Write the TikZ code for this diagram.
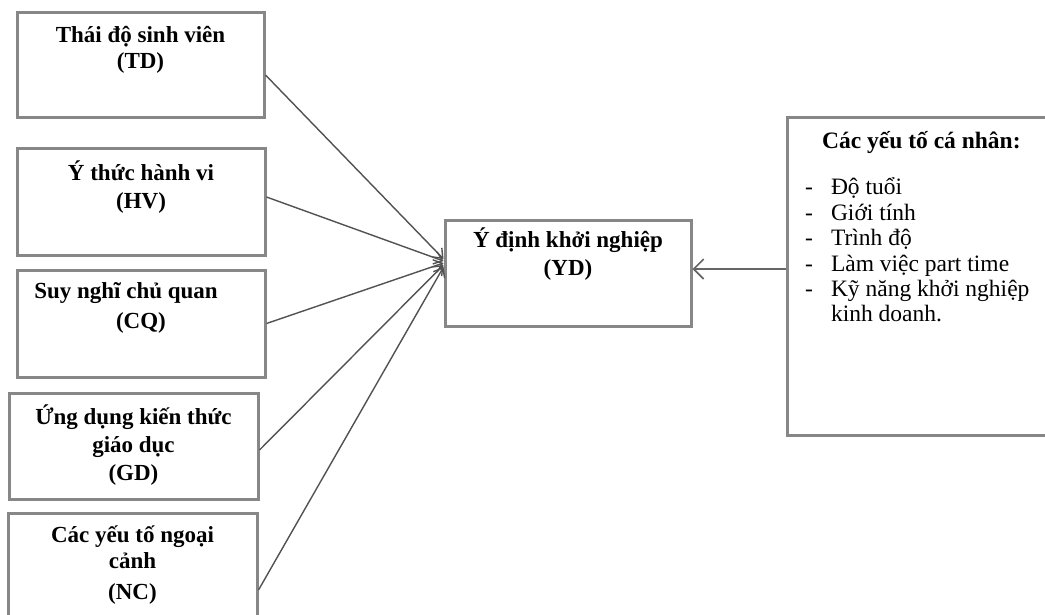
\documentclass[tikz,border=0pt]{standalone}
\usepackage{fontspec}
\setmainfont{Liberation Serif}
\usetikzlibrary{arrows.meta}

\begin{document}
\begin{tikzpicture}[x=1pt, y=-1pt,
  box/.style={draw=black!47, line width=3pt, inner sep=0pt},
  lbl/.style={align=center, font=\fontsize{23}{27}\selectfont\bfseries, inner sep=0pt, anchor=base},
  arr/.style={draw=black!68, line width=1.4pt, -{Straight Barb[length=8pt,width=13pt]}},
  arrr/.style={draw=black!60, line width=1.6pt, -{Straight Barb[length=10pt,width=20pt]}}]
  \clip (0,0) rectangle (1045,614);
  \fill[white] (0,0) rectangle (1045,614);

  % factor boxes on the left (label anchors sit on the last line's baseline)
  \node[box, minimum width=247pt, minimum height=105pt] (td) at (140.5,64.5) {};
  \node[lbl] at (140.5,68) {Thái độ sinh viên\\[-1pt](TD)};

  \node[box, minimum width=248pt, minimum height=107pt] (hv) at (141,201.5) {};
  \node[lbl] at (141,208) {Ý thức hành vi\\[1pt](HV)};

  \node[box, minimum width=248pt, minimum height=107pt] (cq) at (141,323.5) {};
  \node[lbl] at (141,328) {Suy nghĩ chủ quan\hspace*{30pt}\\[3pt](CQ)};

  \node[box, minimum width=249pt, minimum height=106pt] (gd) at (133.5,446) {};
  \node[lbl] at (133.5,480) {Ứng dụng kiến thức\\[1pt]giáo dục\\[1pt](GD)};

  \node[box, minimum width=249pt, minimum height=127pt] (nc) at (132.5,576.5) {};
  \node[lbl] at (132.5,599) {Các yếu tố ngoại\\[-1pt]cảnh\\[4pt](NC)};

  % outcome box
  \node[box, minimum width=246pt, minimum height=106pt] (yd) at (568,273) {};
  \node[lbl] at (568,275) {Ý định khởi nghiệp\\[1pt](YD)};

  % personal factors box
  \node[box, minimum width=273pt, minimum height=318pt] (rb) at (923.5,276) {};
  \node[anchor=base west, inner sep=0pt, font=\fontsize{23.5}{27}\selectfont\bfseries]
    at (822,148) {Các yếu tố cá nhân:};
  \node[anchor=north west, inner sep=0pt, font=\fontsize{23.5}{25.4}\selectfont]
    (items) at (805,177) {\begin{tabular}{@{}l@{\hspace{18pt}}l@{}}
      - & Độ tuổi\\
      - & Giới tính\\
      - & Trình độ\\
      - & Làm việc part time\\
      - & Kỹ năng khởi nghiệp\\
        & kinh doanh.
    \end{tabular}};

  % influences
  \draw[arr] ([yshift=-10.5pt]td.east) -- ([yshift=14pt]yd.west);
  \draw[arr] ([yshift=4.5pt]hv.east)   -- ([yshift=12pt]yd.west);
  \draw[arr] (cq.east)                 -- ([yshift=10pt]yd.west);
  \draw[arr] ([yshift=-4pt]gd.east)    -- ([yshift=8pt]yd.west);
  \draw[arr] ([yshift=-13.5pt]nc.east) -- ([yshift=6pt]yd.west);
  \draw[arrr] ([yshift=7pt]rb.west) -- ([yshift=7pt]rb.west -| yd.east);
\end{tikzpicture}
\end{document}
